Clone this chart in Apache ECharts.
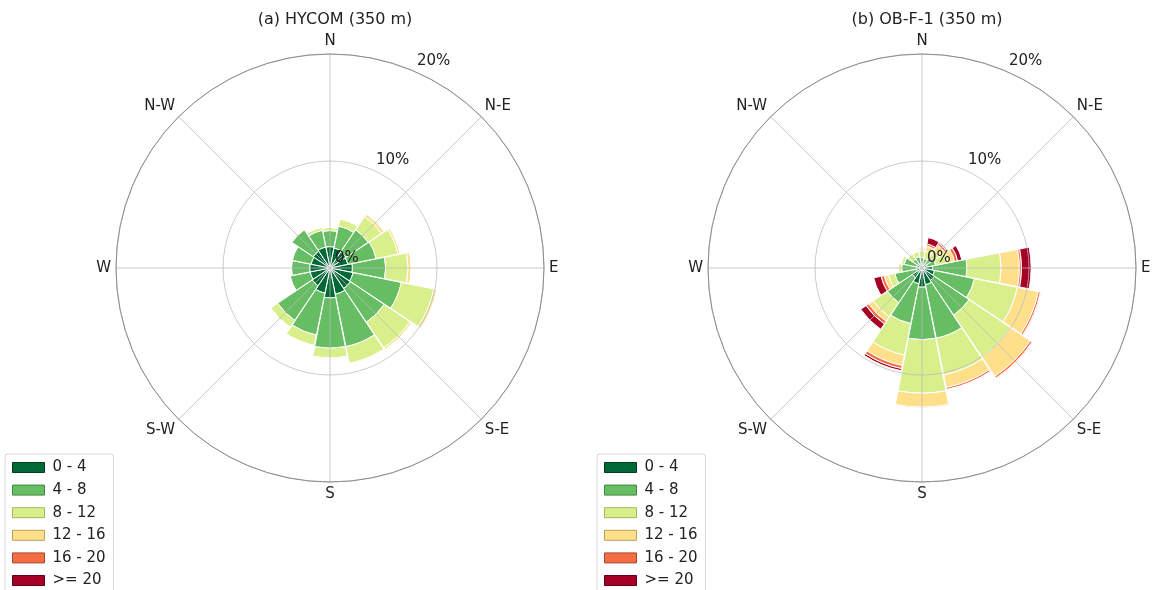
<!DOCTYPE html>
<html>
<head>
<meta charset="utf-8">
<script src="https://cdn.jsdelivr.net/npm/echarts@6/dist/echarts.min.js"></script>
<style>
html,body{margin:0;padding:0;background:#fff;}
#chart{width:1153px;height:590px;}
</style>
</head>
<body>
<div id="chart"></div>
<script>
// ---- data ----
const directions = ['N','NNE','NE','ENE','E','ESE','SE','SSE','S','SSW','SW','WSW','W','WNW','NW','NNW'];
const tickLabels = ['N','N-E','E','S-E','S','S-W','W','N-W'];   // every 45 degrees
const speedBins = ['0 - 4','4 - 8','8 - 12','12 - 16','16 - 20','>= 20'];
const radialTicks = [0, 10, 20];  // percent
const titles = ['(a) HYCOM (350 m)', '(b) OB-F-1 (350 m)'];

// (a) HYCOM, frequency (%) per direction for each speed bin
const hycom_0_4   = [2.0,1.9,1.8,1.7,2.1,2.2,2.3,2.5,2.8,2.4,2.0,1.9,1.9,1.8,1.9,2.0];
const hycom_4_8   = [1.5,2.1,2.5,2.7,3.1,4.6,3.8,5.0,4.7,4.0,3.9,1.9,1.7,1.8,2.4,1.6];
const hycom_8_12  = [0.3,0.7,1.5,2.1,2.1,3.1,2.9,1.6,0.9,1.0,0.8,0.1,0.05,0.05,0.1,0.3];
const hycom_12_16 = [0,0,0.3,0.2,0.3,0.3,0.2,0.1,0.05,0,0,0,0,0,0,0];
const hycom_16_20 = [0,0,0,0,0,0,0,0,0,0,0,0,0,0,0,0];
const hycom_20    = [0,0,0,0,0,0,0,0,0,0,0,0,0,0,0,0];

// (b) OB-F-1
const obf_0_4   = [0.4,0.4,0.4,0.5,1.0,1.2,1.4,1.6,1.8,1.5,1.1,0.6,0.5,0.5,0.4,0.4];
const obf_4_8   = [0.6,0.5,0.6,0.8,3.2,3.8,3.9,5.1,4.9,3.8,2.8,2.0,1.4,1.2,0.6,0.7];
const obf_8_12  = [0.6,0.7,1.0,1.2,3.2,4.1,4.7,3.5,5.0,3.0,1.6,0.6,0.3,0.3,0.6,0.5];
const obf_12_16 = [0.2,0.5,0.6,0.6,1.7,2.0,2.2,1.2,1.3,1.0,0.5,0.4,0.05,0,0,0];
const obf_16_20 = [0.1,0.2,0.2,0.3,0.2,0.2,0.2,0.2,0.1,0.3,0.3,0.3,0,0,0,0];
const obf_20    = [0,0.6,0.1,0.4,0.9,0.05,0.05,0,0,0.2,0.6,0.7,0,0,0,0];

const hycomSeries = [hycom_0_4, hycom_4_8, hycom_8_12, hycom_12_16, hycom_16_20, hycom_20];
const obfSeries   = [obf_0_4, obf_4_8, obf_8_12, obf_12_16, obf_16_20, obf_20];

// ---- styles ----
const colors  = ['#006837','#66bd63','#d9ef8b','#fee08b','#f46d43','#a50026'];
const borders = ['#003d20','#3f8a3e','#a3b562','#b8a05a','#a8472a','#5e0016'];
const FONT = 'DejaVu Sans';
const centers = [[330,268],[922,268]];
const R = 214;
const GRID = 'rgba(185,185,185,0.75)';
const sector = 360 / directions.length;

const polar = [], angleAxis = [], radiusAxis = [], series = [], legend = [], title = [];
const nRose = centers.length;

centers.forEach((c, p) => {
  // polar p: the bars (category directions, centred on each direction)
  polar.push({center: c, radius: R});
  angleAxis.push({
    polarIndex: p, type: 'category', data: directions, boundaryGap: true,
    startAngle: 90 + sector / 2, clockwise: true, show: false
  });
  radiusAxis.push({
    polarIndex: p, type: 'value', min: radialTicks[0], max: radialTicks[2], show: false
  });
  title.push({
    text: titles[p], left: c[0], top: 7, textAlign: 'center',
    textStyle: {fontSize: 16, fontWeight: 'normal', color: '#222', fontFamily: FONT}
  });
  legend.push({
    orient: 'vertical', left: p === 0 ? 5 : 597, top: 454, height: 170,
    padding: [6, 8, 6, 7], itemGap: 7.6, itemWidth: 32, itemHeight: 10,
    borderColor: '#d6d6d6', borderWidth: 1, borderRadius: 3, backgroundColor: '#fff',
    icon: 'rect', selectedMode: false,
    textStyle: {fontSize: 15, color: '#222', fontFamily: FONT, padding: [0, 0, 0, 3]},
    data: speedBins.map((n, k) => ({name: n, itemStyle: {color: colors[k], borderColor: borders[k], borderWidth: 1}}))
  });
  const src = p === 0 ? hycomSeries : obfSeries;
  src.forEach((arr, k) => {
    series.push({
      type: 'bar', coordinateSystem: 'polar', polarIndex: p, stack: 'rose' + p,
      name: speedBins[k], data: arr, barCategoryGap: '2%',
      itemStyle: {color: colors[k], borderColor: '#ffffff', borderWidth: 1},
      emphasis: {disabled: true}, z: 2
    });
  });
});

// grid overlay: compass spokes, circles and direction labels
centers.forEach((c, p) => {
  polar.push({center: c, radius: R});
  angleAxis.push({
    polarIndex: nRose + p, type: 'value', min: 0, max: 360, interval: 360 / tickLabels.length,
    startAngle: 90, clockwise: true, z: 11,
    axisLine: {show: true, lineStyle: {color: '#8c8c8c', width: 1}},
    axisTick: {show: false},
    axisLabel: {margin: 5, fontSize: 15, color: '#222', fontFamily: FONT,
      formatter: v => v >= 360 ? '' : tickLabels[Math.round(v / (360 / tickLabels.length))]},
    splitLine: {show: true, lineStyle: {color: GRID, width: 1}}
  });
  radiusAxis.push({
    polarIndex: nRose + p, type: 'value', min: radialTicks[0], max: radialTicks[2],
    interval: radialTicks[1] - radialTicks[0], z: 10,
    axisLine: {show: false}, axisTick: {show: false}, axisLabel: {show: false},
    splitLine: {show: true, lineStyle: {color: GRID, width: 1}}
  });
});

// label overlay: radial percent labels along 22.5 deg east of north
centers.forEach((c, p) => {
  polar.push({center: c, radius: R});
  angleAxis.push({polarIndex: 2 * nRose + p, type: 'value', min: 0, max: 360,
    startAngle: 90 - sector, show: false});
  radiusAxis.push({
    polarIndex: 2 * nRose + p, type: 'value', min: radialTicks[0], max: radialTicks[2],
    interval: radialTicks[1] - radialTicks[0], z: 12,
    axisLine: {show: false}, axisTick: {show: false}, splitLine: {show: false},
    axisLabel: {formatter: '{value}%', fontSize: 15, color: '#222', fontFamily: FONT,
      margin: 0, align: 'left', verticalAlign: 'bottom', padding: [0, 0, 2, 5]}
  });
});

const chart = echarts.init(document.getElementById('chart'));
chart.setOption({
  animation: false,
  backgroundColor: '#fff',
  title, legend, polar, angleAxis, radiusAxis, series
});
</script>
</body>
</html>
